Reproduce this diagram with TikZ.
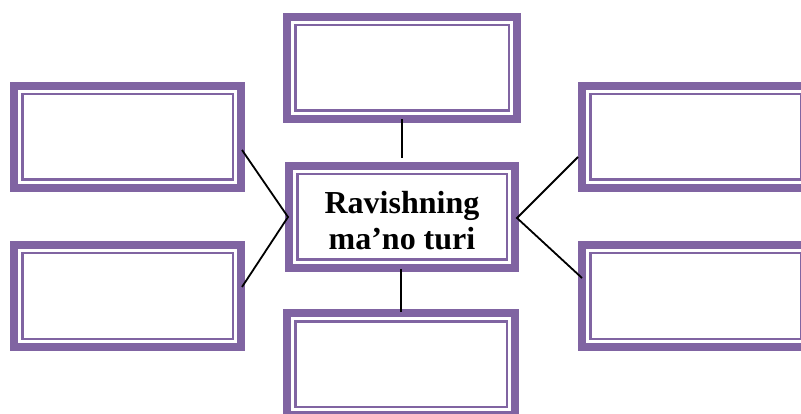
\documentclass[tikz,border=0pt]{standalone}
\usepackage{fontspec}
\setmainfont{Liberation Serif}
\usetikzlibrary{calc}
\definecolor{purp}{HTML}{8064A2}
\tikzset{
  pbox/.style 2 args={rectangle, draw=purp, line width=8pt, fill=white, inner sep=0pt,
    minimum width=#1, minimum height=#2,
    path picture={\draw[purp, line width=2.5pt]
      ([shift={(8.25pt,-8.25pt)}]path picture bounding box.north west) rectangle
      ([shift={(-8.25pt,8.25pt)}]path picture bounding box.south east);}},
  conn/.style={draw=black, line width=1.8pt},
  title/.style={font=\bfseries\fontsize{32}{36}\selectfont, align=center, inner sep=0pt}
}
\begin{document}
\begin{tikzpicture}[x=1pt,y=-1pt]
\useasboundingbox (0,0) rectangle (801,414);
\node[pbox={230pt}{102pt}] (t) at (402,68) {};
\node[pbox={226pt}{102pt}] (c) at (402,217) {};
\node[pbox={228pt}{102pt}] (b) at (401,364) {};
\node[pbox={227pt}{102pt}] (lt) at (127.5,137) {};
\node[pbox={227pt}{102pt}] (lb) at (127.5,296) {};
\node[pbox={227pt}{102pt}] (rt) at (695.5,137) {};
\node[pbox={227pt}{102pt}] (rb) at (695.5,296) {};
\node[title] (txt) at (402,221) {Ravishning\\ma’no turi};
\draw[conn] ($(lt.east)+(-3,13)$) -- ($(c.west)+(3,0)$) -- ($(lb.east)+(-3,-9)$);
\draw[conn] ($(rt.west)+(0,20)$) -- ($(c.east)+(-2,1)$) -- ($(rb.west)+(4,-18)$);
\draw[conn] ($(t.south)+(0,-4)$) -- ($(c.north)+(0,-4)$);
\draw[conn] ($(c.south)+(-1,-3)$) -- ($(b.north)+(0,3)$);
\end{tikzpicture}
\end{document}
